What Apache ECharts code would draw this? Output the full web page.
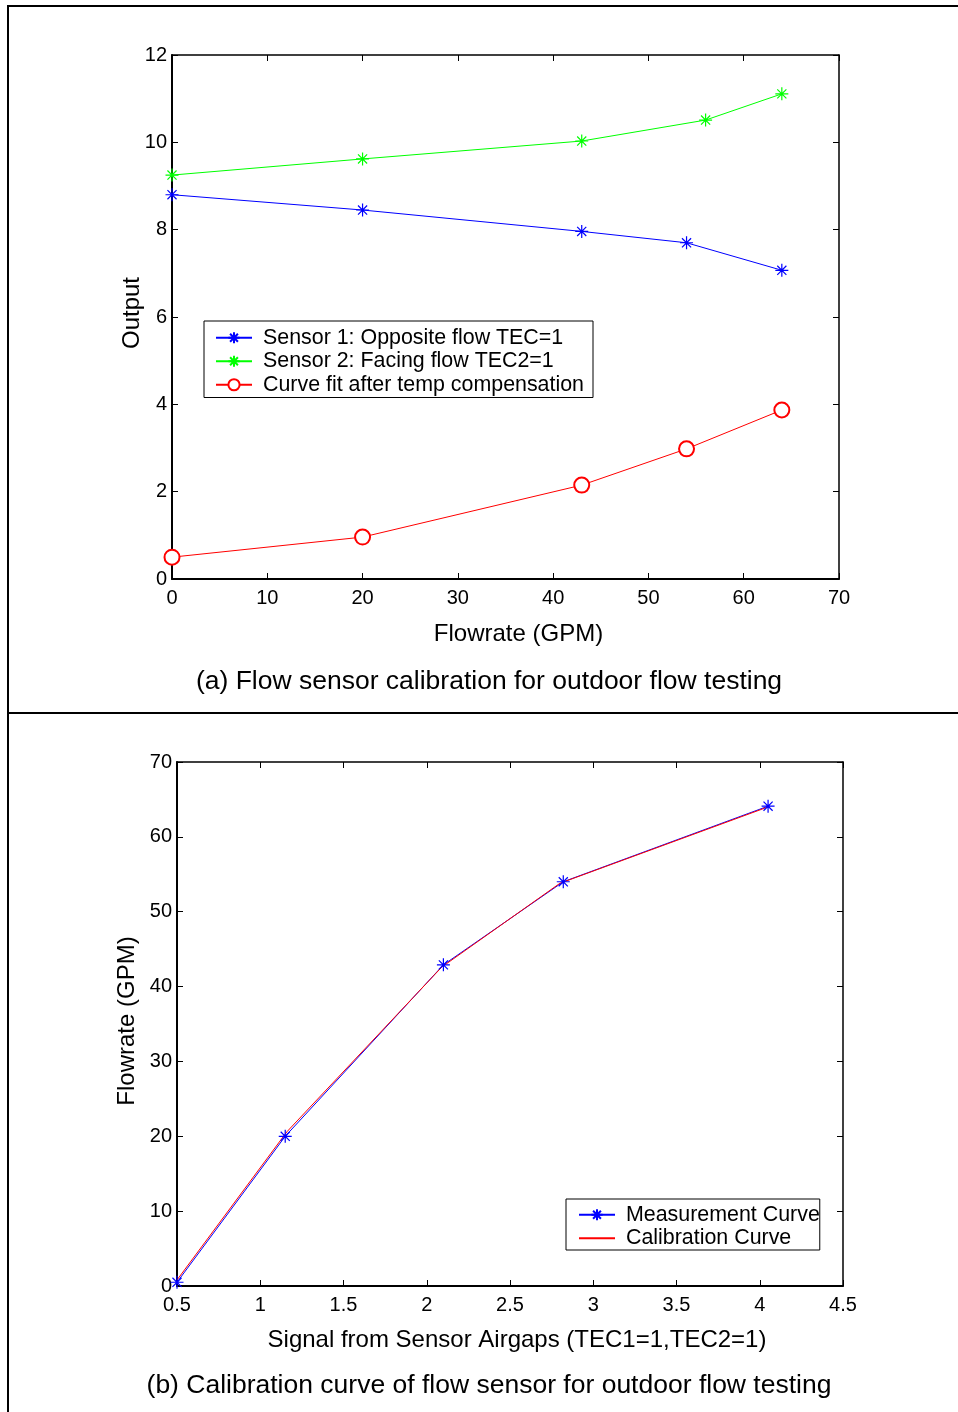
<!DOCTYPE html>
<html>
<head>
<meta charset="utf-8">
<script src="https://cdn.jsdelivr.net/npm/echarts@6/dist/echarts.min.js"></script>
<style>
  html, body { margin: 0; padding: 0; background: #fff; }
  #chart { width: 958px; height: 1412px; }
</style>
</head>
<body>
<div id="chart"></div>
<script>
// (a) sensor outputs versus flowrate
const flowGpm      = [0, 20, 43, 54, 64];
const sensor1Out   = [8.80, 8.45, 7.96, 7.70, 7.07];
const sensor2Flow  = [0, 20, 43, 56, 64];
const sensor2Out   = [9.25, 9.62, 10.03, 10.51, 11.11];
const fitOut       = [0.50, 0.96, 2.15, 2.98, 3.87];

// (b) flowrate versus combined airgap signal
const signalMeas   = [0.5, 1.15, 2.10, 2.82, 4.05];
const flowMeas     = [0.5, 20.0, 42.9, 54.0, 64.1];
const signalCal    = [0.5, 1.16, 2.09, 2.80, 4.05];
const flowCal      = [0.8, 20.6, 42.6, 53.8, 64.0];

const seriesNames = {
  s1: 'Sensor 1: Opposite flow TEC=1',
  s2: 'Sensor 2: Facing flow TEC2=1',
  fit: 'Curve fit after temp compensation',
  meas: 'Measurement Curve',
  cal: 'Calibration Curve'
};
const captionA = '(a) Flow sensor calibration for outdoor flow testing';
const captionB = '(b) Calibration curve of flow sensor for outdoor flow testing';

const FONT = '"Liberation Sans", Arial, Helvetica, sans-serif';
const ASTERISK = 'path://M0 -10 L0 10 M-10 0 L10 0 M-7 -7 L7 7 M-7 7 L7 -7';

function pairs(xs, ys) { return xs.map((x, i) => [x, ys[i]]); }

function boxAxis(gridIndex, pos, min, max, interval, opts, namePad) {
  const main = pos === 'bottom' || pos === 'left';
  return Object.assign({
    type: 'value',
    gridIndex: gridIndex,
    position: pos,
    min: min, max: max, interval: interval,
    nameMoveOverlap: false,
    axisLine: { show: true, onZero: false, lineStyle: { color: '#000', width: main ? 2 : 1.5 } },
    axisTick: { show: true, inside: true, length: 6, lineStyle: { color: '#000', width: 1 } },
    axisLabel: { show: main, color: '#000', fontFamily: FONT, fontSize: 20, margin: main ? (pos === 'left' ? 5 : 9) : 0 },
    splitLine: { show: false },
    nameTextStyle: { color: '#000', fontFamily: FONT, fontSize: 24, padding: namePad || 0 }
  }, opts || {});
}

function starSeries(name, xi, yi, data, color) {
  return {
    type: 'line', name: name, xAxisIndex: xi, yAxisIndex: yi, data: data,
    clip: false, symbol: ASTERISK, symbolSize: 13,
    lineStyle: { color: color, width: 1 },
    itemStyle: { color: color, borderColor: color, borderWidth: 1.2 },
    emphasis: { disabled: true }
  };
}

const legendBase = {
  orient: 'vertical',
  backgroundColor: '#fff',
  borderColor: '#000',
  borderWidth: 1,
  borderRadius: 0,
  itemWidth: 36,
  itemHeight: 14,
  itemGap: 0,
  inactiveColor: '#000',
  selectedMode: false,
  textStyle: { color: '#000', fontFamily: FONT, fontSize: 21.4, lineHeight: 23.5, padding: [0, 0, 0, 6] }
};

const chart = echarts.init(document.getElementById('chart'), null, { renderer: 'canvas' });
chart.setOption({
  backgroundColor: '#fff',
  animation: false,
  grid: [
    { left: 172, top: 55, width: 667, height: 524 },
    { left: 177, top: 762, width: 666, height: 524 }
  ],
  xAxis: [
    boxAxis(0, 'bottom', 0, 70, 10, { name: 'Flowrate (GPM)', nameLocation: 'middle', nameGap: 43 }, [0, 0, 0, 26]),
    boxAxis(0, 'top', 0, 70, 10),
    boxAxis(1, 'bottom', 0.5, 4.5, 0.5, { name: 'Signal from Sensor Airgaps (TEC1=1,TEC2=1)', nameLocation: 'middle', nameGap: 42 }, [0, 0, 0, 14]),
    boxAxis(1, 'top', 0.5, 4.5, 0.5)
  ],
  yAxis: [
    boxAxis(0, 'left', 0, 12, 2, { name: 'Output', nameLocation: 'middle', nameGap: 28 }, [0, 0, 0, 8]),
    boxAxis(0, 'right', 0, 12, 2),
    boxAxis(1, 'left', 0, 70, 10, { name: 'Flowrate (GPM)', nameLocation: 'middle', nameGap: 38 }, [0, 0, 0, 6]),
    boxAxis(1, 'right', 0, 70, 10)
  ],
  legend: [
    Object.assign({}, legendBase, {
      left: 204, top: 321, padding: [5, 9, 1, 11],
      data: [seriesNames.s1, seriesNames.s2, seriesNames.fit]
    }),
    Object.assign({}, legendBase, {
      left: 566, top: 1199, padding: [4, 0, 0, 12],
      data: [seriesNames.meas, { name: seriesNames.cal, itemStyle: { opacity: 0 } }]
    })
  ],
  series: [
    starSeries(seriesNames.s1, 0, 0, pairs(flowGpm, sensor1Out), '#0000ff'),
    starSeries(seriesNames.s2, 0, 0, pairs(sensor2Flow, sensor2Out), '#00ff00'),
    {
      type: 'line', name: seriesNames.fit, xAxisIndex: 0, yAxisIndex: 0,
      data: pairs(flowGpm, fitOut), clip: false,
      symbol: 'emptyCircle', symbolSize: 15,
      lineStyle: { color: '#ff0000', width: 1 },
      itemStyle: { color: '#ff0000', borderColor: '#ff0000', borderWidth: 1 },
      emphasis: { disabled: true }
    },
    starSeries(seriesNames.meas, 2, 2, pairs(signalMeas, flowMeas), '#0000ff'),
    {
      type: 'line', name: seriesNames.cal, xAxisIndex: 2, yAxisIndex: 2,
      data: pairs(signalCal, flowCal), clip: false,
      symbol: 'none', showSymbol: false,
      lineStyle: { color: '#ff0000', width: 1 },
      itemStyle: { color: '#ff0000' },
      emphasis: { disabled: true }
    }
  ],
  graphic: [
    // panel frame
    { type: 'line', shape: { x1: 8, y1: 6, x2: 958, y2: 6 }, style: { stroke: '#000', lineWidth: 2 } },
    { type: 'line', shape: { x1: 8, y1: 713, x2: 958, y2: 713 }, style: { stroke: '#000', lineWidth: 2 } },
    { type: 'line', shape: { x1: 8, y1: 5, x2: 8, y2: 1412 }, style: { stroke: '#000', lineWidth: 2 } },
    // panel captions
    { type: 'text', x: 489, y: 682, style: { text: captionA, fill: '#000', font: '26.5px ' + FONT, textAlign: 'center', textVerticalAlign: 'middle' } },
    { type: 'text', x: 489, y: 1386, style: { text: captionB, fill: '#000', font: '26.5px ' + FONT, textAlign: 'center', textVerticalAlign: 'middle' } }
  ]
});
</script>
</body>
</html>
